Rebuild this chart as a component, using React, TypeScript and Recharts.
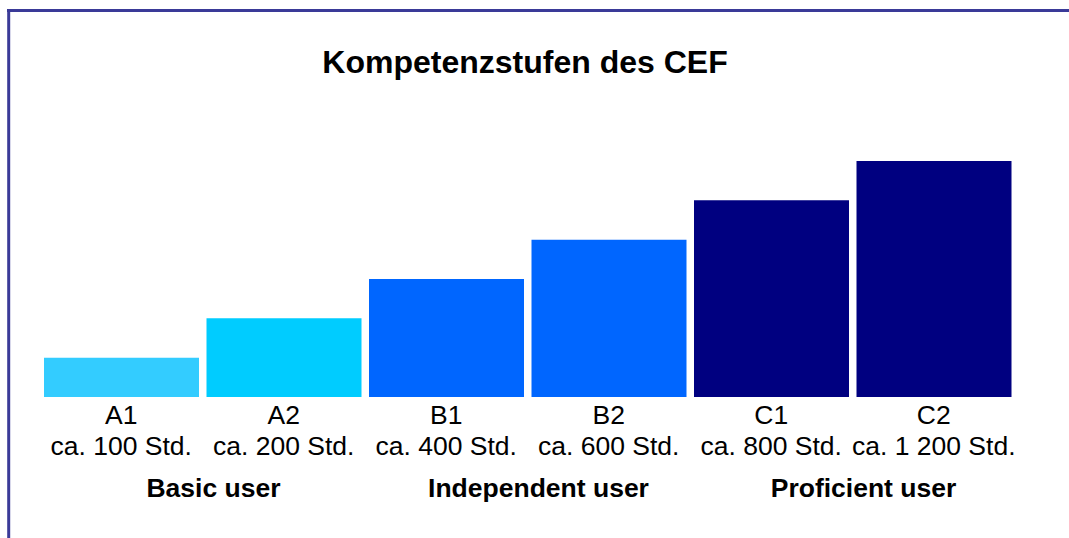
import { BarChart, Bar, XAxis, YAxis, Cell } from "recharts";

const levels = ["A1", "A2", "B1", "B2", "C1", "C2"];
const hours = [
  "ca. 100 Std.",
  "ca. 200 Std.",
  "ca. 400 Std.",
  "ca. 600 Std.",
  "ca. 800 Std.",
  "ca. 1 200 Std.",
];
const steps = [1, 2, 3, 4, 5, 6];
const colors = ["#33ccff", "#00ccff", "#0066ff", "#0066ff", "#000080", "#000080"];
const groups = ["Basic user", "Independent user", "Proficient user"];

const data = levels.map((level, i) => ({ level, hours: hours[i], step: steps[i] }));

const W = 1069;
const H = 538;
const FONT = "'Liberation Sans', Arial, Helvetica, sans-serif";

// band width of one category (plot area is 40..1015)
const BAND = (1015 - 40) / levels.length;

function LevelTick(props: any) {
  const { x, y, index } = props;
  const first = index % 2 === 0;
  return (
    <g>
      <text x={x} y={y + 27} textAnchor="middle" fontSize={26.5} fontFamily={FONT} fill="#000">
        {levels[index]}
      </text>
      <text x={x} y={y + 58} textAnchor="middle" fontSize={26.5} fontFamily={FONT} fill="#000">
        {hours[index]}
      </text>
      {first && (
        <text
          x={x + BAND / 2 + 11}
          y={y + 100}
          textAnchor="middle"
          fontSize={26.5}
          fontWeight="bold"
          fontFamily={FONT}
          fill="#000"
        >
          {groups[index / 2]}
        </text>
      )}
    </g>
  );
}

export default function App() {
  return (
    <div style={{ position: "absolute", left: 0, top: 0, width: W, height: H, background: "#fff" }}>
      <BarChart
        width={W}
        height={H}
        data={data}
        margin={{ top: 161, right: 54, bottom: 0, left: 40 }}
        barCategoryGap={4}
      >
        <XAxis
          dataKey="level"
          height={141}
          tickLine={false}
          axisLine={false}
          tickSize={0}
          tickMargin={0}
          interval={0}
          tick={<LevelTick />}
        />
        <YAxis hide domain={[0, 6]} />
        <Bar dataKey="step" isAnimationActive={false}>
          {data.map((d, i) => (
            <Cell key={d.level} fill={colors[i]} />
          ))}
        </Bar>
      </BarChart>
      <svg
        width={W}
        height={H}
        style={{ position: "absolute", left: 0, top: 0, pointerEvents: "none" }}
      >
        <line x1={7} y1={10.5} x2={W} y2={10.5} stroke="#3a3a98" strokeWidth={3} />
        <line x1={8.7} y1={9} x2={8.7} y2={H} stroke="#3a3a98" strokeWidth={3} />
        <text
          x={525}
          y={73}
          textAnchor="middle"
          fontSize={32}
          fontWeight="bold"
          fontFamily={FONT}
          fill="#000"
        >
          Kompetenzstufen des CEF
        </text>
      </svg>
    </div>
  );
}
